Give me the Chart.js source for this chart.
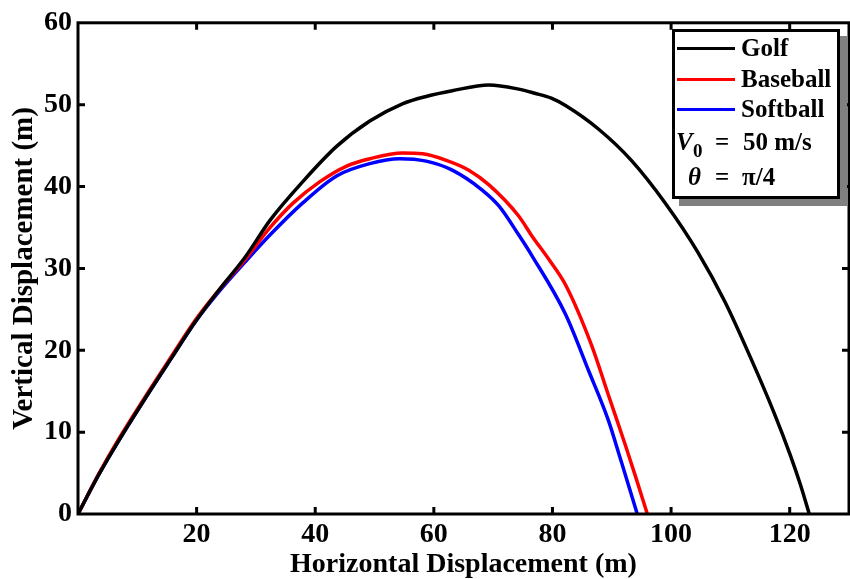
<!DOCTYPE html>
<html><head><meta charset="utf-8">
<script src="https://cdn.jsdelivr.net/npm/chart.js@4/dist/chart.umd.min.js"></script>
<style>
html,body{margin:0;padding:0;background:#fff;}
#wrap{position:relative;width:850px;height:579px;}
#c{position:absolute;left:0;top:0;}
#legend{position:absolute;left:672px;top:29px;width:162px;height:164px;border:3px solid #000;background:#fff;box-shadow:7px 7px 0 #808080;font-family:"Liberation Serif","Times New Roman",serif;font-weight:bold;font-size:25px;color:#000;}
#legend .row{position:absolute;left:0;height:30px;width:162px;}
#legend .sw{position:absolute;left:2px;width:58px;height:3px;top:14px;}
#legend .t{position:absolute;top:0;line-height:30px;white-space:nowrap;}
#legend i{font-style:italic;}
</style>
</head><body>
<div id="wrap">
<canvas id="c" width="850" height="579"></canvas>
<div id="legend"></div>
</div>
<script>
// ---- data ----
const seriesNames = ['Golf', 'Baseball', 'Softball'];
const seriesColors = ['#000000', '#ff0000', '#0000ff'];

const golfX = [0, 3.5, 6.9, 11.4, 15.8, 19.8, 23.7, 28.2, 32.4, 37.9, 43.6, 49.2, 54.7, 58.7, 63.1, 69.3, 74.3, 77.0, 79.8, 82.2, 87.8, 93.3, 99.0, 104.5, 109.1, 113.4, 117.4, 120.1, 121.8, 123.3];
const golfY = [0, 4.8, 9.0, 14.2, 19.1, 23.5, 27.3, 31.4, 35.9, 40.6, 44.9, 48.0, 50.1, 51.0, 51.7, 52.4, 51.9, 51.4, 50.8, 49.9, 47.0, 43.2, 38.0, 32.0, 25.9, 19.1, 12.3, 7.2, 3.6, 0];

const baseballX = [0, 3.5, 6.9, 11.4, 15.8, 19.8, 23.7, 28.2, 32.4, 36.3, 40.8, 45.3, 49.2, 54.7, 58.1, 62.1, 65.9, 69.3, 74.3, 76.5, 79.5, 82.2, 86.6, 89.4, 92.3, 94.0, 96.0];
const baseballY = [0, 4.9, 9.2, 14.4, 19.3, 23.7, 27.3, 31.1, 35.0, 38.0, 40.6, 42.5, 43.4, 44.1, 44.0, 43.2, 42.0, 40.2, 36.4, 34.0, 31.0, 28.0, 20.6, 14.6, 8.4, 4.6, 0];

const softballX = [0, 3.5, 6.9, 11.4, 15.8, 19.8, 23.7, 28.2, 32.4, 37.9, 43.6, 49.2, 54.2, 58.7, 63.1, 68.1, 71.0, 74.3, 76.5, 82.2, 86.1, 89.4, 91.6, 94.3];
const softballY = [0, 4.8, 9.0, 14.2, 19.1, 23.5, 27.1, 30.8, 34.1, 38.0, 41.3, 42.8, 43.4, 43.1, 42.0, 39.6, 37.6, 34.1, 31.6, 24.4, 17.5, 11.5, 6.4, 0];

const xTickLabels = [20, 40, 60, 80, 100, 120];
const yTickLabels = [0, 10, 20, 30, 40, 50, 60];
const xTitle = 'Horizontal Displacement (m)';
const yTitle = 'Vertical Displacement (m)';
const legendV0 = '50 m/s';
const legendTheta = 'π/4';

// ---- build ----
const FONT = '"Liberation Serif", "Times New Roman", serif';
function pts(xs, ys) { return xs.map((x, i) => ({ x: x, y: ys[i] })); }
const allX = [golfX, baseballX, softballX];
const allY = [golfY, baseballY, softballY];

const datasets = seriesNames.map((n, i) => ({
  label: n,
  data: pts(allX[i], allY[i]),
  borderColor: seriesColors[i],
  backgroundColor: seriesColors[i],
  borderWidth: 3.5,
  pointRadius: 0,
  showLine: true,
  cubicInterpolationMode: 'monotone',
  fill: false
}));
datasets[0].order = 1; datasets[1].order = 2; datasets[2].order = 3;

const framePlugin = {
  id: 'frame',
  afterDatasetsDraw(chart) {
    const { ctx, chartArea: a, scales: { x, y } } = chart;
    ctx.save();
    ctx.strokeStyle = '#000';
    ctx.lineWidth = 3;
    ctx.beginPath();
    xTickLabels.forEach(v => {
      const px = x.getPixelForValue(v);
      ctx.moveTo(px, a.bottom); ctx.lineTo(px, a.bottom - 7);
      ctx.moveTo(px, a.top); ctx.lineTo(px, a.top + 7);
    });
    yTickLabels.forEach(v => {
      if (v === 0 || v === 60) return;
      const py = y.getPixelForValue(v);
      ctx.moveTo(a.left, py); ctx.lineTo(a.left + 7, py);
      ctx.moveTo(a.right, py); ctx.lineTo(a.right - 7, py);
    });
    ctx.stroke();
    ctx.strokeRect(a.left, a.top, a.right - a.left, a.bottom - a.top);
    ctx.restore();
  }
};

new Chart(document.getElementById('c'), {
  type: 'scatter',
  data: { datasets: datasets },
  plugins: [framePlugin],
  options: {
    responsive: false,
    animation: false,
    devicePixelRatio: 1,
    layout: { padding: { top: 19, right: 1, left: 0, bottom: 0 } },
    plugins: { legend: { display: false }, tooltip: { enabled: false } },
    scales: {
      x: {
        type: 'linear', min: 0, max: 130,
        afterFit(s) { s.height = 65; },
        afterBuildTicks(s) { s.ticks = xTickLabels.map(v => ({ value: v })); },
        grid: { display: false, drawTicks: false },
        border: { display: false },
        ticks: { color: '#000', padding: 4, maxRotation: 0, autoSkip: false,
                 font: { family: FONT, size: 28, weight: 'bold' } },
        title: { display: true, text: xTitle, color: '#000', padding: 0,
                 font: { family: FONT, size: 28, weight: 'bold', lineHeight: 1 } }
      },
      y: {
        type: 'linear', min: 0, max: 60,
        afterFit(s) { s.width = 78; },
        afterBuildTicks(s) { s.ticks = yTickLabels.map(v => ({ value: v })); },
        grid: { display: false, drawTicks: false },
        border: { display: false },
        ticks: { color: '#000', padding: 6, autoSkip: false,
                 font: { family: FONT, size: 28, weight: 'bold' } },
        title: { display: true, text: yTitle, color: '#000', padding: { top: 10, bottom: 0 },
                 font: { family: FONT, size: 29, weight: 'bold', lineHeight: 1 } }
      }
    }
  }
});

// ---- legend box ----
const lg = document.getElementById('legend');
const rowTops = [1, 32, 62];
seriesNames.forEach((n, i) => {
  const r = document.createElement('div');
  r.className = 'row'; r.style.top = rowTops[i] + 'px';
  const sw = document.createElement('div');
  sw.className = 'sw'; sw.style.background = seriesColors[i];
  const t = document.createElement('div');
  t.className = 't'; t.style.left = '66px'; t.textContent = n;
  r.appendChild(sw); r.appendChild(t); lg.appendChild(r);
});
const r4 = document.createElement('div');
r4.className = 'row'; r4.style.top = '95px';
r4.innerHTML = '<div class="t" style="left:1px"><i>V</i></div>' +
  '<div class="t" style="left:18px;top:9px;font-size:19px">0</div>' +
  '<div class="t" style="left:40px">=</div>' +
  '<div class="t" style="left:68px"></div>';
r4.lastChild.textContent = legendV0;
lg.appendChild(r4);
const r5 = document.createElement('div');
r5.className = 'row'; r5.style.top = '130px';
r5.innerHTML = '<div class="t" style="left:13px"><i>θ</i></div>' +
  '<div class="t" style="left:40px">=</div>' +
  '<div class="t" style="left:67px"></div>';
r5.lastChild.textContent = legendTheta;
lg.appendChild(r5);
</script>
</body></html>
